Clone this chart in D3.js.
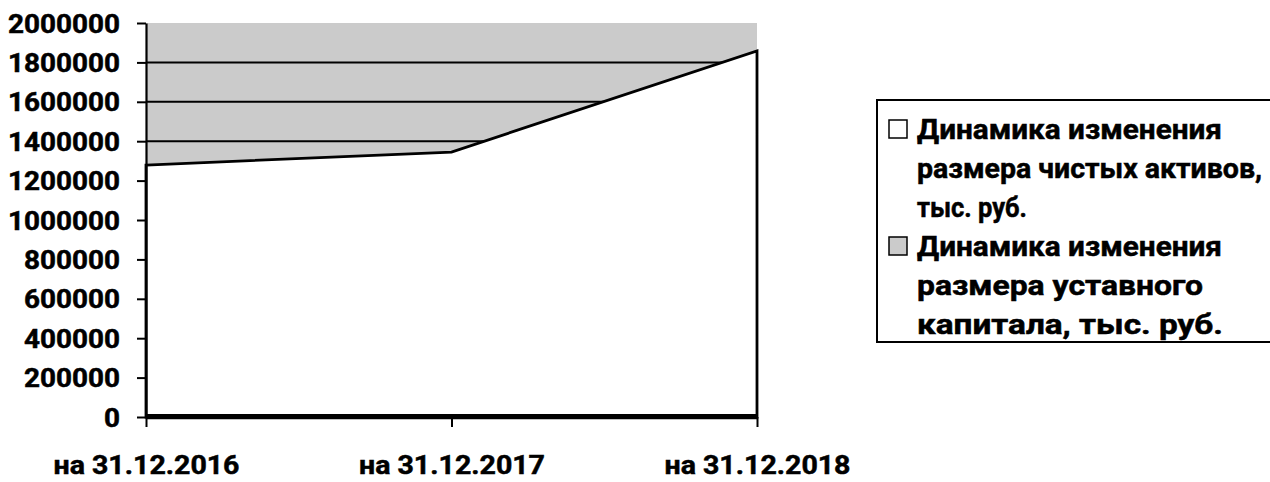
<!DOCTYPE html>
<html><head><meta charset="utf-8">
<script src="https://cdn.jsdelivr.net/npm/d3@7"></script>
<style>
html,body{margin:0;padding:0;background:#fff;}
svg{display:block;}
text{font-family:Roboto,"Open Sans",sans-serif;font-weight:700;fill:#000;stroke:#000;stroke-width:0.5px;}
</style></head>
<body>
<svg id="chart" width="1270" height="482"></svg>
<script>
const categories = ["на 31.12.2016", "на 31.12.2017", "на 31.12.2018"];
const netAssets = [1279000, 1345000, 1858000];
const capital = [10000, 10000, 10000];
const yTicks = [0, 200000, 400000, 600000, 800000, 1000000, 1200000, 1400000, 1600000, 1800000, 2000000];
const legendLines = [
  ["Динамика изменения", "размера чистых активов,", "тыс. руб."],
  ["Динамика изменения", "размера уставного", "капитала, тыс. руб."]
];

const svg = d3.select("#chart");
const L = 146, R = 757, T = 23, B = 417;
const x = d3.scalePoint().domain(categories).range([L, R]);
const y = d3.scaleLinear().domain([0, 2000000]).range([B, T]);

const grey = "#cbcbcb";
svg.append("rect").attr("x", L).attr("y", T).attr("width", R - L).attr("height", B - T).attr("fill", grey);

svg.append("g").selectAll("line").data(yTicks.filter(d => d > 0 && d < 2000000)).join("line")
  .attr("x1", L).attr("x2", R).attr("y1", d => y(d)).attr("y2", d => y(d))
  .attr("stroke", "#000").attr("stroke-width", 2);

const rows1 = categories.map((c, i) => ({c, v: netAssets[i]}));
const rows2 = categories.map((c, i) => ({c, v: capital[i]}));
const area = d3.area().x(d => x(d.c)).y0(y(0)).y1(d => y(d.v));

svg.append("path").datum(rows1).attr("d", area)
  .attr("fill", "#fff").attr("stroke", "#000").attr("stroke-width", 2.8).attr("stroke-linejoin", "miter");
svg.append("path").datum(rows2).attr("d", area)
  .attr("fill", grey).attr("stroke", "#000").attr("stroke-width", 2);

const yAxis = svg.append("g").attr("transform", `translate(${L},0)`)
  .call(d3.axisLeft(y).tickValues(yTicks).tickSize(9).tickSizeOuter(0).tickPadding(17).tickFormat(d3.format("d")));
yAxis.select(".domain").attr("stroke-width", 2.2);
yAxis.selectAll(".tick line").attr("stroke-width", 2);
yAxis.selectAll(".tick text").attr("font-size", 25).attr("dy", "0.36em")
  .attr("textLength", d => String(d).length * 16).attr("lengthAdjust", "spacingAndGlyphs");

const xAxis = svg.append("g").attr("transform", `translate(0,${B})`)
  .call(d3.axisBottom(x).tickSize(10).tickSizeOuter(0).tickPadding(0));
xAxis.select(".domain").attr("stroke-width", 3.5);
xAxis.selectAll(".tick line").attr("stroke-width", 2);
xAxis.selectAll(".tick text").attr("font-size", 26).attr("y", 57).attr("dy", 0)
  .attr("textLength", 186).attr("lengthAdjust", "spacingAndGlyphs");

const lg = svg.append("g");
lg.append("rect").attr("x", 877).attr("y", 100).attr("width", 420).attr("height", 242)
  .attr("fill", "#fff").attr("stroke", "#000").attr("stroke-width", 2);
const widths = [[305, 345, 110], [305, 286, 306]];
const fills = ["#fff", grey];
legendLines.forEach((lines, gi) => {
  const base = 139 + gi * 117;
  lg.append("rect").attr("x", 889).attr("y", base - 19).attr("width", 18).attr("height", 18)
    .attr("fill", fills[gi]).attr("stroke", "#000").attr("stroke-width", 1.5);
  lines.forEach((t, li) => {
    lg.append("text").attr("x", 917).attr("y", base + li * 39).attr("font-size", 27)
      .attr("textLength", widths[gi][li]).attr("lengthAdjust", "spacingAndGlyphs").text(t);
  });
});
</script>
</body></html>
